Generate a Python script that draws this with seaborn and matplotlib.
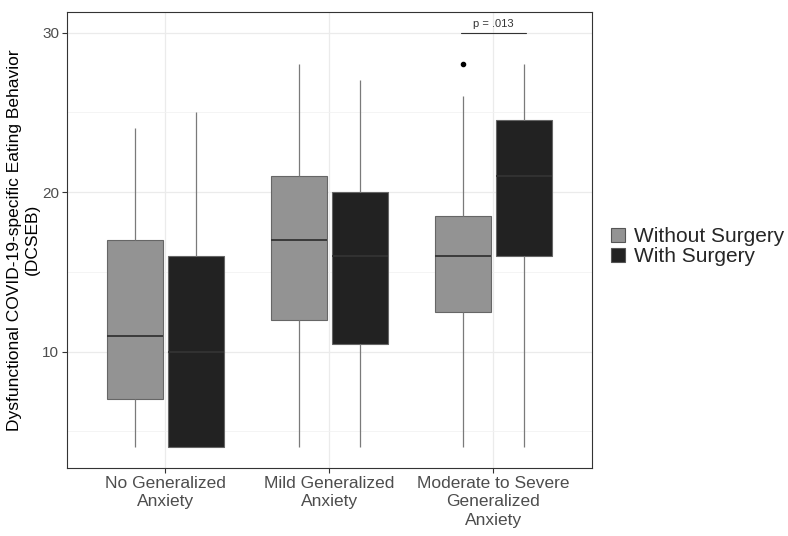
import numpy as np
import pandas as pd
import matplotlib.pyplot as plt
import seaborn as sns
from matplotlib.patches import Patch

# Values (9 values per box -> quartiles at 3rd/5th/7th)
groups = ['No Generalized\nAnxiety', 'Mild Generalized\nAnxiety',
          'Moderate to Severe\nGeneralized\nAnxiety']
surgery_levels = ['Without Surgery', 'With Surgery']

no_without = [4, 5, 7, 9, 11, 14, 17, 20, 24]
no_with = [4, 4, 4, 7, 10, 13, 16, 20, 25]
mild_without = [4, 8, 12, 15, 17, 19, 21, 24, 28]
mild_with = [4, 7, 10.5, 13, 16, 18, 20, 23, 27]
mod_without = [4, 9, 12.5, 14, 16, 17, 18.5, 26, 28]
mod_with = [4, 12, 16, 18, 21, 23, 24.5, 26, 28]

p_label = 'p = .013'
p_y = 30

samples = {
    (groups[0], surgery_levels[0]): no_without,
    (groups[0], surgery_levels[1]): no_with,
    (groups[1], surgery_levels[0]): mild_without,
    (groups[1], surgery_levels[1]): mild_with,
    (groups[2], surgery_levels[0]): mod_without,
    (groups[2], surgery_levels[1]): mod_with,
}
rows = []
for (g, s), vals in samples.items():
    for v in vals:
        rows.append({'anxiety': g, 'surgery': s, 'dcseb': v})
df = pd.DataFrame(rows)

sns.set_style('white')
plt.rcParams['font.family'] = ['Liberation Sans', 'DejaVu Sans']

palette = {'Without Surgery': '#939393', 'With Surgery': '#222222'}

fig = plt.figure(figsize=(7.88, 5.36), dpi=100)
ax = fig.add_axes([0.085, 0.127, 0.666, 0.851])

sns.boxplot(data=df, x='anxiety', y='dcseb', hue='surgery',
            order=groups, hue_order=surgery_levels, palette=palette,
            width=0.75, gap=0.09, linecolor='#666666', linewidth=0.8,
            whis=1.5, showcaps=False, legend=False, ax=ax,
            whiskerprops={'color': '#7a7a7a', 'linewidth': 0.9},
            medianprops={'color': '#333333', 'linewidth': 1.3},
            flierprops={'marker': 'o', 'markersize': 3,
                        'markerfacecolor': 'black', 'markeredgecolor': 'black'},
            zorder=3)

# significance line
ax.plot([2 - 0.2, 2 + 0.2], [p_y, p_y], color='#333333', linewidth=0.8)
ax.text(2, p_y + 0.2, p_label, ha='center', va='bottom', fontsize=8,
        color='#333333')

ax.set_xlim(-0.6, 2.6)
ax.set_ylim(2.7, 31.3)
ax.set_yticks([10, 20, 30])
ax.set_yticks([5, 15, 25], minor=True)
ax.grid(True, which='major', color='#ebebeb', linewidth=0.9, zorder=0)
ax.grid(True, which='minor', axis='y', color='#f2f2f2', linewidth=0.6, zorder=0)
ax.set_axisbelow(True)

for sp in ax.spines.values():
    sp.set_visible(True)
    sp.set_color('#333333')
    sp.set_linewidth(0.8)

ax.tick_params(axis='both', which='major', direction='out', length=3.5,
               width=0.8, color='#333333', bottom=True, left=True)
ax.tick_params(axis='y', which='minor', length=0)
ax.tick_params(axis='x', labelsize=12.5, labelcolor='#4d4d4d', pad=2)
ax.tick_params(axis='y', labelsize=11, labelcolor='#4d4d4d', pad=2)
for lab in ax.get_xticklabels():
    lab.set_linespacing(1.3)

ax.set_xlabel('')
ax.set_ylabel('Dysfunctional COVID-19-specific Eating Behavior\n(DCSEB)',
              fontsize=12.5, color='black', labelpad=2)

handles = [Patch(facecolor=palette[s], edgecolor='#555555', linewidth=0.8, label=s)
           for s in surgery_levels]
ax.legend(handles=handles, loc='center left', bbox_to_anchor=(1.02, 0.485),
          frameon=False, fontsize=15, handlelength=0.7, handleheight=0.7,
          handletextpad=0.4, labelspacing=0.05, borderaxespad=0)

plt.savefig('out.png', dpi=100)
plt.close()
